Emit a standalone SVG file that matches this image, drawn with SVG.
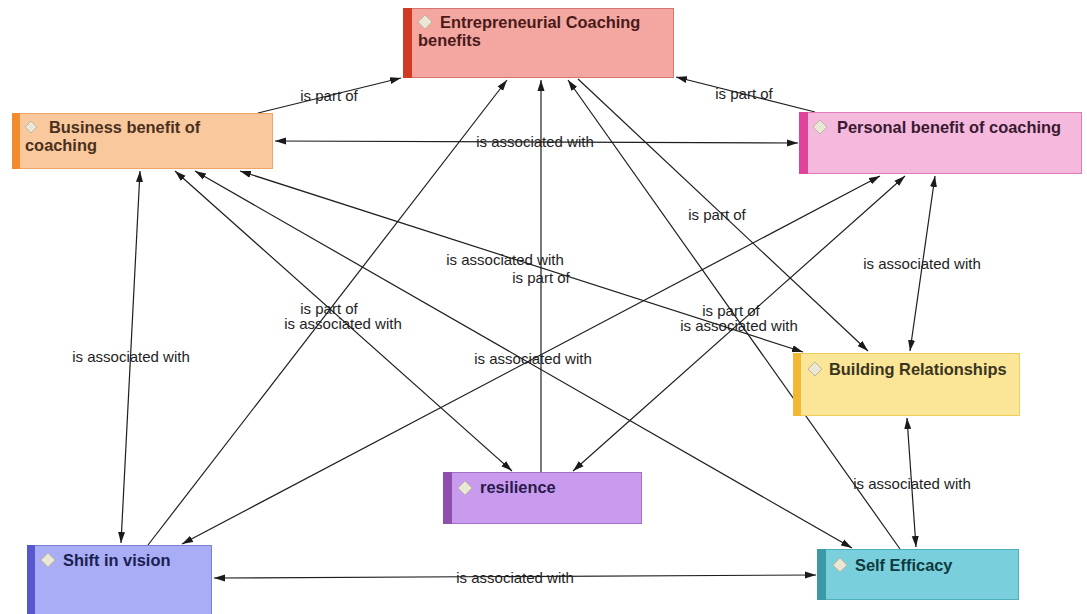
<svg xmlns="http://www.w3.org/2000/svg" width="1087" height="614" viewBox="0 0 1087 614">
<defs>
<marker id="arr" markerUnits="userSpaceOnUse" markerWidth="12" markerHeight="8" refX="11" refY="4" orient="auto-start-reverse">
<path d="M0,0.5 L11,4 L0,7.5 z" fill="#1a1a1a"/>
</marker>
<style>
.c{stroke:#1e1e1e;stroke-width:1.2;fill:none}
.b{marker-start:url(#arr);marker-end:url(#arr)}
.e{marker-end:url(#arr)}
.l{font-family:"Liberation Sans",Arial,sans-serif;font-size:15px;fill:#1e1e1e;text-anchor:middle}
.t{font-family:"Liberation Sans",Arial,sans-serif;font-size:16.4px;font-weight:bold}
.d{fill:#ebe7d6;stroke:#bdb59c;stroke-width:1}
</style>
</defs>
<rect width="1087" height="614" fill="#ffffff"/>
<g id="connectors">
<line class="c e" x1="258" y1="113" x2="401" y2="78"/>
<line class="c e" x1="815" y1="112" x2="676" y2="77"/>
<line class="c b" x1="275" y1="141" x2="798" y2="143"/>
<line class="c b" x1="140" y1="171" x2="121" y2="543"/>
<line class="c b" x1="935" y1="176" x2="910" y2="351"/>
<line class="c b" x1="907" y1="418" x2="916" y2="547"/>
<line class="c b" x1="214" y1="578" x2="816" y2="575"/>
<line class="c e" x1="148" y1="545" x2="507" y2="80"/>
<line class="c b" x1="175" y1="171" x2="512" y2="471"/>
<line class="c e" x1="541" y1="472" x2="541" y2="80"/>
<line class="c b" x1="240" y1="171" x2="803" y2="352"/>
<line class="c b" x1="195" y1="171" x2="852" y2="548"/>
<line class="c b" x1="880" y1="176" x2="182" y2="544"/>
<line class="c b" x1="905" y1="176" x2="573" y2="471"/>
<line class="c e" x1="578" y1="79" x2="868" y2="351"/>
<line class="c e" x1="900" y1="549" x2="568" y2="80"/>
<text class="l" x="329" y="101">is part of</text>
<text class="l" x="744" y="99">is part of</text>
<text class="l" x="535" y="147">is associated with</text>
<text class="l" x="131" y="362">is associated with</text>
<text class="l" x="922" y="269">is associated with</text>
<text class="l" x="912" y="489">is associated with</text>
<text class="l" x="515" y="583">is associated with</text>
<text class="l" x="329" y="314">is part of</text>
<text class="l" x="343" y="329">is associated with</text>
<text class="l" x="541" y="283">is part of</text>
<text class="l" x="505" y="265">is associated with</text>
<text class="l" x="533" y="364">is associated with</text>
<text class="l" x="739" y="331">is associated with</text>
<text class="l" x="717" y="220">is part of</text>
<text class="l" x="731" y="316">is part of</text>
</g>
<g id="ecb">
<rect x="403.5" y="8.5" width="270" height="69" fill="#f3a7a0" stroke="#d8756c"/>
<rect x="403" y="8" width="9" height="70" fill="#d33a26"/>
<path class="d" d="M425,15 L432,22 L425,29 L418,22 z"/>
<text class="t" fill="#4a1a1a"><tspan x="440" y="28">Entrepreneurial Coaching</tspan><tspan x="418" y="46">benefits</tspan></text>
</g>
<g id="bbc">
<rect x="12.5" y="113.5" width="260" height="55" fill="#f9c89c" stroke="#eda56a"/>
<rect x="12" y="113" width="8" height="56" fill="#f28b2c"/>
<path class="d" d="M31,121 L37,127 L31,133 L25,127 z"/>
<text class="t" fill="#4a3020"><tspan x="49" y="133">Business benefit of</tspan><tspan x="25" y="151">coaching</tspan></text>
</g>
<g id="pbc">
<rect x="799.5" y="112.5" width="282" height="61" fill="#f5b9de" stroke="#e07ab8"/>
<rect x="799" y="112" width="9" height="62" fill="#e0449a"/>
<path class="d" d="M820,120 L827,127 L820,134 L813,127 z"/>
<text class="t" fill="#3a1a30" x="837" y="133">Personal benefit of coaching</text>
</g>
<g id="br">
<rect x="793.5" y="353.5" width="226" height="62" fill="#fbe597" stroke="#f0cc5a"/>
<rect x="793" y="353" width="8" height="63" fill="#f2b833"/>
<path class="d" d="M815,362 L822,369 L815,376 L808,369 z"/>
<text class="t" fill="#3a3520" x="829" y="375">Building Relationships</text>
</g>
<g id="res">
<rect x="443.5" y="472.5" width="198" height="51" fill="#c99bef" stroke="#a470c8"/>
<rect x="443" y="472" width="9" height="52" fill="#8f4fae"/>
<path class="d" d="M465,481 L472,488 L465,495 L458,488 z"/>
<text class="t" fill="#2a1a4a" x="480" y="493">resilience</text>
</g>
<g id="siv">
<rect x="27.5" y="545.5" width="184" height="70" fill="#a9adf6" stroke="#7a7fd8"/>
<rect x="27" y="545" width="8" height="71" fill="#5558cf"/>
<path class="d" d="M48,553 L55,560 L48,567 L41,560 z"/>
<text class="t" fill="#1a2050" x="63" y="566">Shift in vision</text>
</g>
<g id="se">
<rect x="817.5" y="549.5" width="201" height="50" fill="#79d0dc" stroke="#4fb0bd"/>
<rect x="817" y="549" width="9" height="51" fill="#3b99a7"/>
<path class="d" d="M840,558 L847,565 L840,572 L833,565 z"/>
<text class="t" fill="#103a40" x="855" y="571">Self Efficacy</text>
</g>
</svg>
